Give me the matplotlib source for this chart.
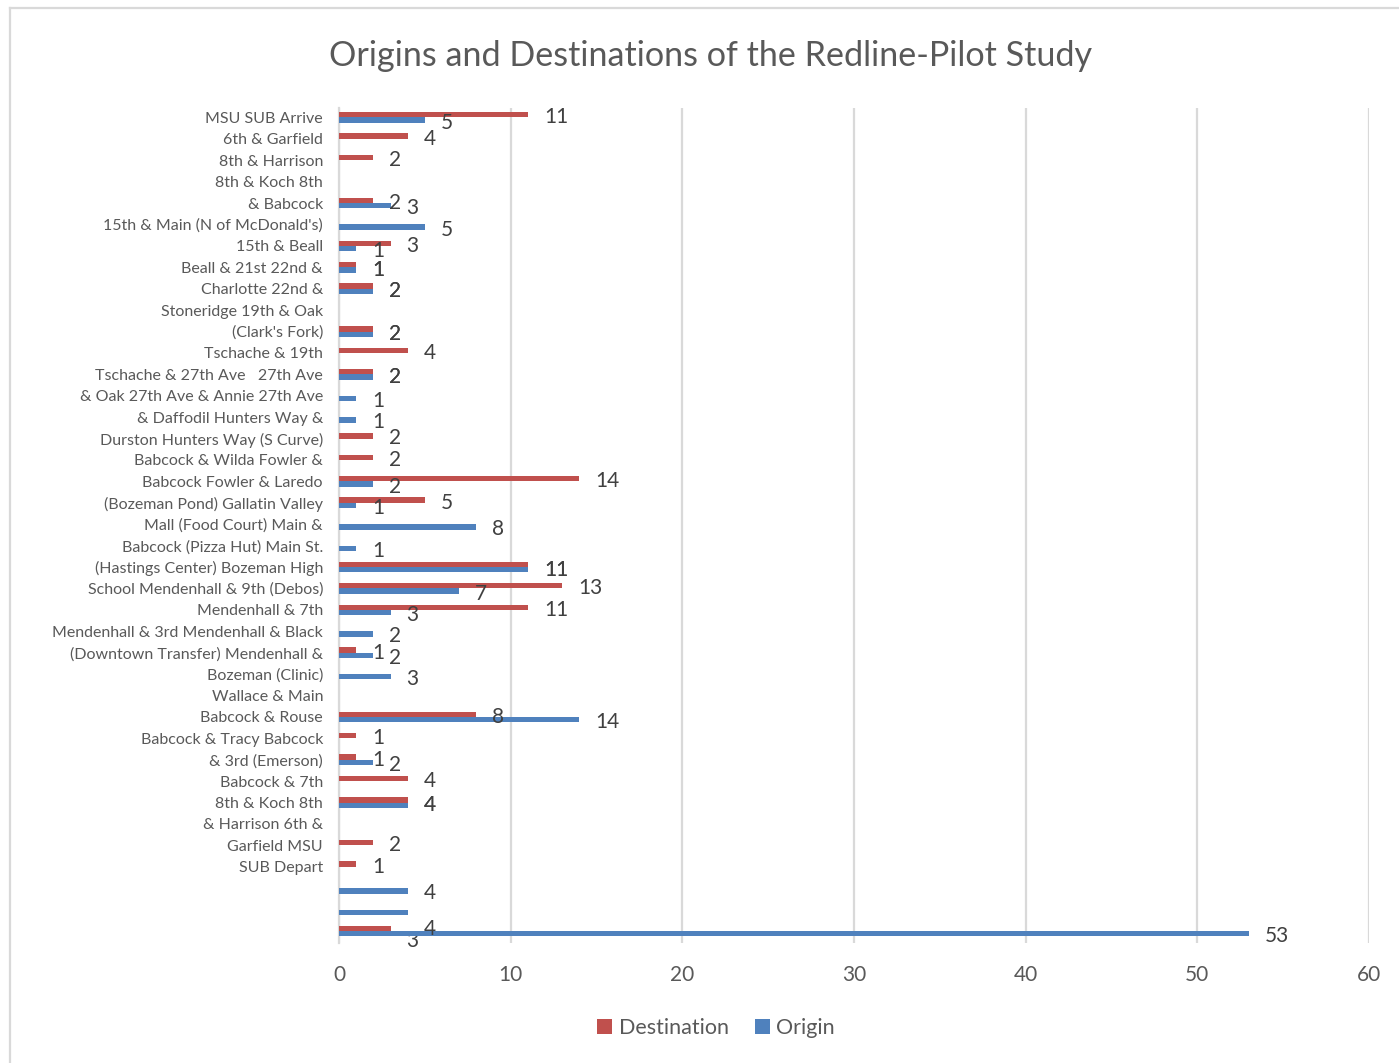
import matplotlib
matplotlib.use("Agg")
import matplotlib.pyplot as plt
import numpy as np
from matplotlib.patches import Patch
from matplotlib.lines import Line2D

# Category text as it wraps along the vertical axis
category_lines = [
    "MSU SUB Arrive",
    "6th & Garfield",
    "8th & Harrison",
    "8th & Koch 8th",
    "& Babcock",
    "15th & Main (N of McDonald's)",
    "15th & Beall",
    "Beall & 21st 22nd &",
    "Charlotte 22nd &",
    "Stoneridge 19th & Oak",
    "(Clark's Fork)",
    "Tschache & 19th",
    "Tschache & 27th Ave   27th Ave",
    "& Oak 27th Ave & Annie 27th Ave",
    "& Daffodil Hunters Way &",
    "Durston Hunters Way (S Curve)",
    "Babcock & Wilda Fowler &",
    "Babcock Fowler & Laredo",
    "(Bozeman Pond) Gallatin Valley",
    "Mall (Food Court) Main &",
    "Babcock (Pizza Hut) Main St.",
    "(Hastings Center) Bozeman High",
    "School Mendenhall & 9th (Debos)",
    "Mendenhall & 7th",
    "Mendenhall & 3rd Mendenhall & Black",
    "(Downtown Transfer) Mendenhall &",
    "Bozeman (Clinic)",
    "Wallace & Main",
    "Babcock & Rouse",
    "Babcock & Tracy Babcock",
    "& 3rd (Emerson)",
    "Babcock & 7th",
    "8th & Koch 8th",
    "& Harrison 6th &",
    "Garfield MSU",
    "SUB Depart",
    "",
    "",
    "",
]

destination = [11, 4, 2, 0, 2, 0, 3, 1, 2, 0, 2, 4, 2, 0, 0, 2, 2, 14, 5, 0,
               0, 11, 13, 11, 0, 1, 0, 0, 8, 1, 1, 4, 4, 0, 2, 1, 0, 0, 3]
origin = [5, 0, 0, 0, 3, 5, 1, 1, 2, 0, 2, 0, 2, 1, 1, 0, 0, 2, 1, 8,
          1, 11, 7, 3, 2, 2, 3, 0, 14, 0, 2, 0, 4, 0, 0, 0, 4, 4, 53]

x_ticks = [0, 10, 20, 30, 40, 50, 60]

RED = "#C0504D"
BLUE = "#4F81BD"
GRID = "#D9D9D9"
TEXT = "#595959"
LABEL = "#404040"
FONT = "Lato"

plt.rcParams["font.family"] = [FONT, "DejaVu Sans"]

fig = plt.figure(figsize=(13.99, 10.63), dpi=100)
W, H = 1399, 1063
PT = 72 / 100  # points per pixel

# light frame around the chart area
fig.add_artist(Line2D([10 / W, 10 / W], [0, 1 - 8 / H], transform=fig.transFigure,
                      color=GRID, lw=1.6))
fig.add_artist(Line2D([10 / W, 1], [1 - 8 / H, 1 - 8 / H], transform=fig.transFigure,
                      color=GRID, lw=1.6))

ax = fig.add_axes([339 / W, 1 - 943 / H, (1369 - 339) / W, (943 - 108) / H])

n = len(category_lines)
y = np.arange(n)
bh = 0.25

ax.barh(y - bh / 2 - 0.06, destination, height=bh, color=RED, zorder=3, label="Destination")
ax.barh(y + bh / 2 - 0.06, origin, height=bh, color=BLUE, zorder=4, label="Origin")

ax.set_xlim(0, 60)
ax.set_ylim(n - 0.5, -0.5)
ax.set_xticks(x_ticks)
ax.set_xticklabels([str(t) for t in x_ticks])
ax.set_yticks(y - 0.06)
ax.set_yticklabels(category_lines)

ax.tick_params(axis="y", length=0, pad=16 * PT, labelsize=11.5, labelcolor=TEXT)
ax.tick_params(axis="x", length=0, pad=22 * PT, labelsize=15, labelcolor=TEXT)

ax.grid(axis="x", color=GRID, lw=1.6, zorder=0)
ax.grid(axis="y", visible=False)
for s in ["top", "right", "bottom"]:
    ax.spines[s].set_visible(False)
ax.spines["left"].set_color(GRID)
ax.spines["left"].set_linewidth(1.6)

# extra downward pixel shift (and stacking) for a few crowded value labels
label_shift = {("origin", 37): (14, 6), ("destination", 38): (10, 2)}

for name, values, other, sign in [("destination", destination, origin, -1),
                                  ("origin", origin, destination, 1)]:
    for i, v in enumerate(values):
        if v == 0:
            continue
        # equal pairs share one spot at the middle of the pair
        yc = i - 0.06 if v == other[i] else i - 0.06 + sign * bh / 2
        extra, z = label_shift.get((name, i), (0, 6))
        shift = 2.5 + extra
        ax.annotate(str(v), xy=(v, yc), xytext=(16 * PT, -shift * PT),
                    textcoords="offset points", ha="left", va="center",
                    fontsize=15, color=LABEL, zorder=z, annotation_clip=False)

fig.text(711 / W, 1 - 56 / H, "Origins and Destinations of the Redline-Pilot Study",
         ha="center", va="center", fontsize=24.6, color=TEXT)

handles = [Patch(facecolor=RED, label="Destination"), Patch(facecolor=BLUE, label="Origin")]
fig.legend(handles=handles, loc="center", bbox_to_anchor=(716 / W, 1 - 1028 / H), ncol=2,
           frameon=False, fontsize=15.5, labelcolor=TEXT, handlelength=0.7, handleheight=0.7,
           handletextpad=0.3, columnspacing=1.2)

fig.savefig("out.png", dpi=100, facecolor="white")
